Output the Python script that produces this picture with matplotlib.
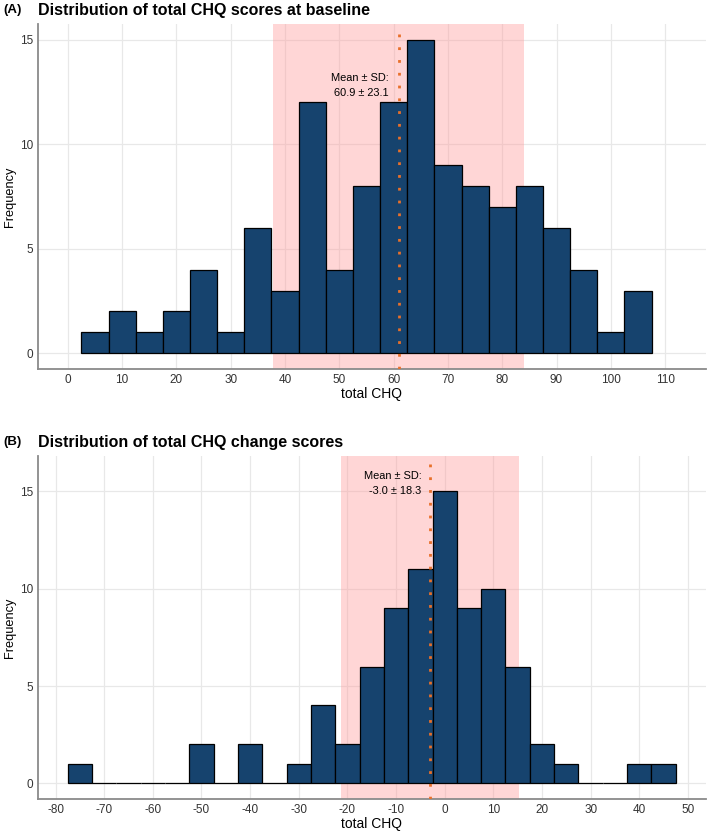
import numpy as np
import matplotlib.pyplot as plt

plt.rcParams['font.family'] = ['Liberation Sans', 'DejaVu Sans']

# panel A: baseline scores, binwidth 5
base_centers = [5, 10, 15, 20, 25, 30, 35, 40, 45, 50, 55, 60, 65, 70, 75, 80, 85, 90, 95, 100, 105]
base_counts = [1, 2, 1, 2, 4, 1, 6, 3, 12, 4, 8, 12, 15, 9, 8, 7, 8, 6, 4, 1, 3]
base_mean, base_sd = 60.9, 23.1
base_xticks = list(range(0, 111, 10))

# panel B: change scores, binwidth 5
chg_centers = [-75, -70, -65, -60, -55, -50, -45, -40, -35, -30, -25, -20, -15, -10, -5,
               0, 5, 10, 15, 20, 25, 30, 35, 40, 45]
chg_counts = [1, 0, 0, 0, 0, 2, 0, 2, 0, 1, 4, 2, 6, 9, 11, 15, 9, 10, 6, 2, 1, 0, 0, 1, 1]
chg_mean, chg_sd = -3.0, 18.3
chg_xticks = list(range(-80, 51, 10))

bar_col = '#16436E'
band_col = '#FF9999'
line_col = '#E8702A'

fig = plt.figure(figsize=(7.09, 8.34), dpi=100)


def panel(rect, centers, counts, mean, sd, xticks, xlim, ylim, text_y, title, tag):
    ax = fig.add_axes(rect)
    ax.axvspan(mean - sd, mean + sd, color=band_col, alpha=0.4, lw=0, zorder=1)
    ax.bar(centers, counts, width=5, color=bar_col, edgecolor='black', linewidth=0.9, zorder=3)
    ax.axvline(mean, color=line_col, lw=2.0, linestyle=(0, (1, 3.6)), zorder=4)
    ax.text(mean - 1.8, text_y, 'Mean \u00b1 SD:\n{:.1f} \u00b1 {:.1f}'.format(mean, sd),
            ha='right', va='center', multialignment='right', fontsize=7.9,
            linespacing=1.55, zorder=5)
    ax.set_xlim(*xlim)
    ax.set_ylim(*ylim)
    ax.set_xticks(xticks)
    ax.set_xticklabels([str(t) for t in xticks])
    ax.set_yticks([0, 5, 10, 15])
    ax.grid(True, color='#E8E8E8', lw=0.9, zorder=0)
    ax.set_axisbelow(True)
    for s in ['top', 'right']:
        ax.spines[s].set_visible(False)
    for s in ['left', 'bottom']:
        ax.spines[s].set_color('#8A8A8A')
        ax.spines[s].set_linewidth(1.3)
    ax.tick_params(axis='both', labelsize=8.5, colors='#333333', length=0, pad=3.5)
    ax.set_xlabel('total CHQ', fontsize=10, labelpad=1)
    ax.set_ylabel('Frequency', fontsize=9.2, labelpad=3)
    ax.text(-0.052, 1.04, tag, transform=ax.transAxes, fontsize=9.5, fontweight='bold',
            ha='left', va='center')
    ax.text(0.0, 1.04, title, transform=ax.transAxes, fontsize=11.5, fontweight='bold',
            ha='left', va='center')
    return ax


panel([0.0536, 0.5576, 0.942, 0.4136], base_centers, base_counts, base_mean, base_sd,
      base_xticks, (-5.5, 117.5), (-0.75, 15.75), 12.8,
      'Distribution of total CHQ scores at baseline', '(A)')
panel([0.0536, 0.042, 0.942, 0.411], chg_centers, chg_counts, chg_mean, chg_sd,
      chg_xticks, (-83.6, 53.7), (-0.8, 16.8), 15.4,
      'Distribution of total CHQ change scores', '(B)')

fig.savefig('out.png', dpi=100)
